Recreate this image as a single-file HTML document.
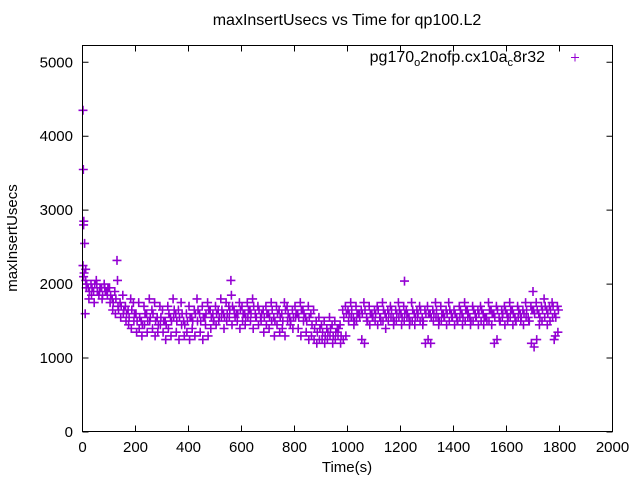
<!DOCTYPE html>
<html><head><meta charset="utf-8"><style>
body{margin:0;background:#fff;}
svg{display:block;font-family:"Liberation Sans",Arial,sans-serif;}
</style></head><body>
<svg id="chart" width="640" height="480">
<rect x="0" y="0" width="640" height="480" fill="#fff"/>
<text x="347" y="25" font-size="16" text-anchor="middle">maxInsertUsecs vs Time for qp100.L2</text>
<text x="347" y="472" font-size="15" text-anchor="middle">Time(s)</text>
<text x="17" y="238" font-size="15" text-anchor="middle" transform="rotate(-90 17 238)">maxInsertUsecs</text>
<g id="axes"></g>
<g id="points"></g>
<g>
<text x="545" y="62" font-size="16" text-anchor="end">pg170<tspan font-size="11" dy="4">o</tspan><tspan dy="-4">2nofp.cx10a</tspan><tspan font-size="11" dy="4">c</tspan><tspan dy="-4">8r32</tspan></text>
<path d="M571 57.5h8M575 53.5v8" stroke="#9400d3" stroke-width="1"/>
</g>
<rect x="82.5" y="45.5" width="530" height="386" fill="none" stroke="#000" stroke-width="1"/>
</svg>
<script>
const xTicks=[0,200,400,600,800,1000,1200,1400,1600,1800,2000];
const yTicks=[0,1000,2000,3000,4000,5000];
const step=10;
const upper=[2250,2050,1950,2000,1900,2050,1850,1950,2000,1900,
1950,1800,1900,2050,1750,1850,1700,1650,1800,1750,
1600,1750,1500,1700,1600,1800,1650,1750,1550,1700,
1650,1500,1700,1550,1800,1600,1650,1750,1500,1600,
1700,1550,1650,1800,1600,1700,1550,1750,1650,1600,
1700,1650,1800,1600,1750,1700,1850,1650,1600,1750,
1700,1600,1750,1650,1800,1600,1700,1550,1650,1700,
1600,1750,1550,1700,1650,1600,1750,1700,1550,1650,
1700,1600,1750,1650,1550,1700,1600,1650,1500,1550,
1450,1500,1400,1550,1450,1500,1400,1450,1650,1700,
1650,1750,1550,1700,1600,1650,1750,1550,1700,1600,
1650,1700,1550,1750,1600,1650,1700,1550,1650,1750,
1600,1700,1650,1550,1750,1600,1650,1700,1550,1650,
1700,1600,1650,1750,1550,1700,1600,1650,1750,1600,
1650,1550,1700,1600,1750,1650,1550,1700,1600,1650,
1700,1600,1550,1750,1650,1600,1700,1550,1650,1700,
1600,1750,1650,1550,1700,1600,1650,1750,1550,1700,
1650,1750,1600,1700,1800,1650,1700,1750,1600,1700];
const middle=[2150,2000,1900,1950,2000,1900,1950,1850,1900,1950,
1850,1750,1800,1650,1700,1650,1600,1550,1650,1600,
1500,1550,1450,1600,1500,1550,1600,1500,1450,1550,
1500,1450,1600,1500,1650,1500,1550,1600,1450,1500,
1550,1500,1600,1650,1500,1550,1600,1650,1550,1500,
1600,1550,1650,1550,1600,1650,1700,1550,1600,1650,
1600,1550,1650,1600,1700,1550,1650,1600,1550,1600,
1550,1650,1500,1600,1550,1500,1650,1600,1500,1550,
1600,1550,1650,1600,1500,1550,1450,1400,1350,1400,
1350,1300,1350,1400,1300,1350,1400,1300,1550,1600,
1600,1650,1500,1600,1550,1600,1650,1500,1600,1550,
1600,1650,1500,1650,1550,1600,1650,1500,1600,1650,
1550,1600,1600,1500,1650,1550,1600,1650,1500,1600,
1600,1550,1600,1650,1500,1600,1550,1600,1650,1550,
1600,1500,1650,1550,1650,1600,1500,1650,1550,1600,
1650,1550,1500,1650,1600,1550,1650,1500,1600,1650,
1550,1650,1600,1500,1650,1550,1600,1650,1500,1650,
1600,1650,1550,1650,1700,1600,1650,1700,1550,1650];
const lower=[2100,1950,1800,1850,1750,2000,1900,1800,1950,1850,
1750,1650,1600,1700,1550,1600,1500,1450,1400,1500,
1350,1400,1300,1450,1350,1500,1400,1300,1350,1450,
1350,1250,1400,1300,1550,1350,1250,1450,1300,1350,
1250,1400,1300,1500,1350,1250,1450,1300,1400,1500,
1450,1500,1550,1400,1500,1550,1450,1600,1500,1400,
1500,1450,1550,1500,1400,1550,1450,1500,1350,1450,
1400,1500,1300,1450,1350,1400,1300,1500,1450,1400,
1550,1400,1300,1500,1350,1250,1300,1250,1200,1250,
1250,1200,1250,1300,1200,1250,1300,1200,1250,1300,
1500,1550,1450,1500,1600,1250,1200,1500,1450,1550,
1500,1450,1550,1500,1400,1500,1550,1450,1500,1550,
1450,1500,1550,1450,1500,1450,1550,1500,1450,1200,
1250,1200,1500,1550,1450,1500,1550,1450,1500,1550,
1450,1500,1550,1450,1500,1550,1450,1500,1550,1450,
1500,1450,1550,1500,1450,1200,1250,1500,1550,1450,
1500,1550,1450,1500,1550,1500,1450,1550,1500,1200,
1150,1250,1450,1500,1550,1450,1500,1550,1300,1350];
const outlierTimes=[2,3,4,5,8,10,12,130,560,1215,1700,1780];
const outlierValues=[4350,3550,2800,2850,2550,1600,2200,2320,2050,2040,1900,1250];

const NS="http://www.w3.org/2000/svg";
const L=82.5,R=612.5,T=45.5,B=431.5;
function xs(v){return L+(v-0)/(2000-0)*(R-L);}
function ys(v){return 432-v*0.07395;}
const axes=document.getElementById('axes');
xTicks.forEach(t=>{
 const x=xs(t);
 const p=document.createElementNS(NS,'path');
 p.setAttribute('d',`M${x} ${B}v-6M${x} ${T}v6`);
 p.setAttribute('stroke','#000');
 
 
 axes.appendChild(p);
 const tx=document.createElementNS(NS,'text');
 tx.setAttribute('x',x);tx.setAttribute('y',452);
 tx.setAttribute('font-size','15');tx.setAttribute('text-anchor','middle');
 
 
 tx.textContent=t;axes.appendChild(tx);
});
yTicks.forEach(t=>{
 const y=ys(t);
 const p=document.createElementNS(NS,'path');
 p.setAttribute('d',`M${L} ${y}h6M${R} ${y}h-6`);
 p.setAttribute('stroke','#000');
 
 
 axes.appendChild(p);
 const tx=document.createElementNS(NS,'text');
 tx.setAttribute('x',73);tx.setAttribute('y',y+5);
 tx.setAttribute('font-size','15');tx.setAttribute('text-anchor','end');
 
 
 tx.textContent=t;axes.appendChild(tx);
});
let d='';
function add(t,v){const x=xs(t),y=ys(v);d+=`M${(x-4.5).toFixed(1)} ${y.toFixed(1)}h9M${x.toFixed(1)} ${(y-4.5).toFixed(1)}v9`;}
upper.forEach((v,i)=>add(i*step+2,v));
middle.forEach((v,i)=>add(i*step+6,v));
lower.forEach((v,i)=>add(i*step+4,v));
outlierTimes.forEach((t,i)=>add(t,outlierValues[i]));
const pts=document.createElementNS(NS,'path');
pts.setAttribute('d',d);
pts.setAttribute('stroke','#9400d3');
pts.setAttribute('stroke-width','1.6');
pts.setAttribute('fill','none');


document.getElementById('points').appendChild(pts);
</script>
</body></html>
